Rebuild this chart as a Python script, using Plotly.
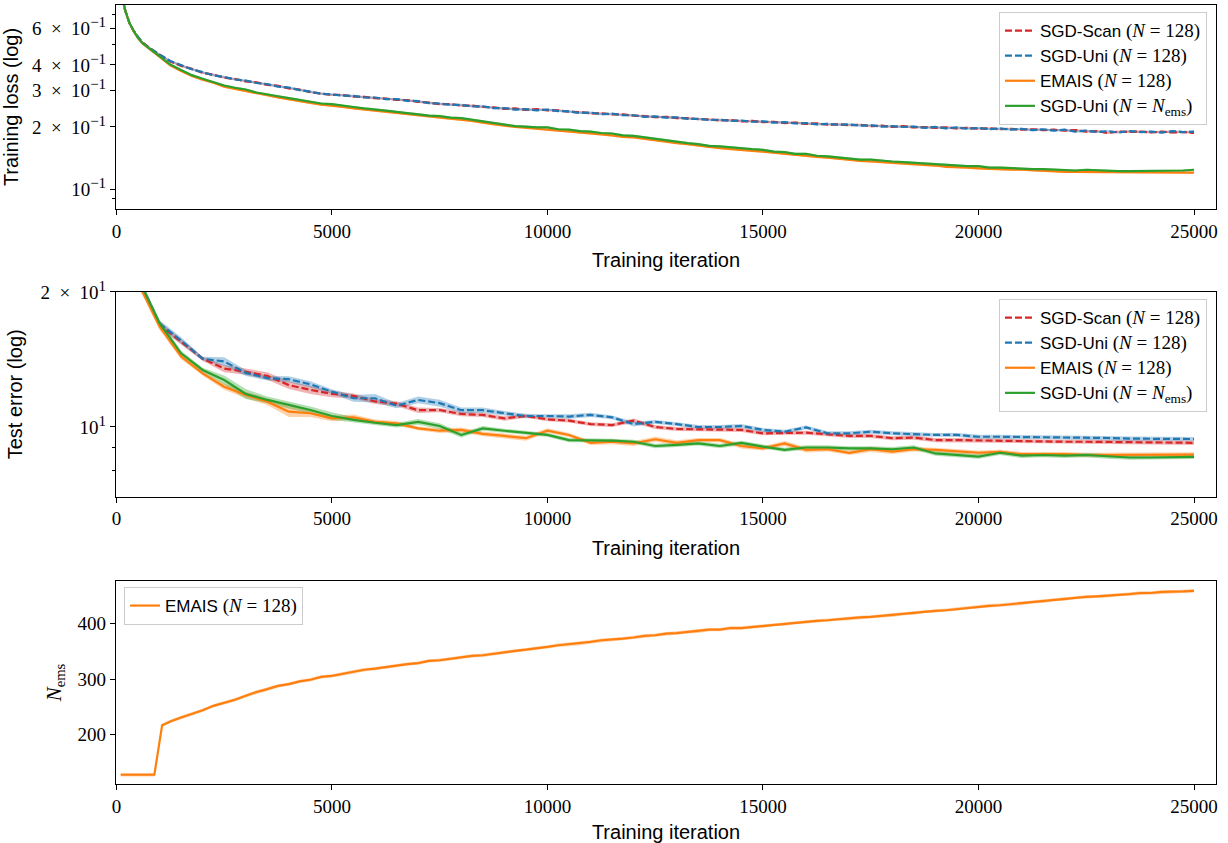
import plotly.graph_objects as go

# ---------------- data ----------------
iters_train = [0, 100, 200, 300, 400, 500, 600, 700, 800, 900] + list(range(1000, 25001, 250))

loss_scan = [2.30, 0.95, 0.74, 0.64, 0.585, 0.545, 0.516, 0.495, 0.478, 0.463,
             0.450, 0.416, 0.396, 0.383, 0.366, 0.359, 0.347, 0.342, 0.333, 0.329,
             0.320, 0.317, 0.308, 0.304, 0.295, 0.291, 0.286, 0.286, 0.281, 0.280,
             0.276, 0.275, 0.271, 0.270, 0.265, 0.263, 0.258, 0.258, 0.254, 0.254,
             0.250, 0.249, 0.245, 0.246, 0.242, 0.244, 0.241, 0.241, 0.237, 0.236,
             0.233, 0.233, 0.230, 0.230, 0.227, 0.226, 0.223, 0.224, 0.221, 0.221,
             0.218, 0.218, 0.215, 0.216, 0.213, 0.214, 0.211, 0.212, 0.209, 0.210,
             0.207, 0.208, 0.205, 0.206, 0.204, 0.205, 0.202, 0.203, 0.200, 0.202,
             0.199, 0.200, 0.198, 0.199, 0.197, 0.198, 0.196, 0.197, 0.195, 0.196,
             0.194, 0.195, 0.193, 0.194, 0.192, 0.193, 0.190, 0.191, 0.187, 0.190,
             0.189, 0.190, 0.188, 0.190, 0.188, 0.189, 0.187]

loss_uni = [2.30, 0.95, 0.74, 0.64, 0.585, 0.545, 0.515, 0.494, 0.477, 0.462,
            0.449, 0.418, 0.398, 0.381, 0.369, 0.356, 0.350, 0.340, 0.336, 0.327,
            0.323, 0.314, 0.311, 0.302, 0.297, 0.290, 0.288, 0.284, 0.283, 0.278,
            0.278, 0.273, 0.273, 0.268, 0.267, 0.261, 0.260, 0.256, 0.256, 0.252,
            0.252, 0.247, 0.247, 0.243, 0.244, 0.241, 0.243, 0.239, 0.238, 0.234,
            0.235, 0.231, 0.232, 0.228, 0.228, 0.224, 0.225, 0.222, 0.223, 0.219,
            0.219, 0.216, 0.217, 0.214, 0.215, 0.212, 0.213, 0.210, 0.211, 0.208,
            0.209, 0.206, 0.207, 0.205, 0.206, 0.203, 0.204, 0.201, 0.202, 0.200,
            0.201, 0.198, 0.200, 0.197, 0.199, 0.196, 0.198, 0.195, 0.197, 0.194,
            0.196, 0.193, 0.195, 0.192, 0.194, 0.190, 0.192, 0.189, 0.191, 0.188,
            0.191, 0.189, 0.190, 0.188, 0.191, 0.189, 0.190]

loss_emais = [2.30, 0.95, 0.74, 0.64, 0.583, 0.540, 0.510, 0.489, 0.472, 0.455,
              0.438, 0.398, 0.374, 0.354, 0.339, 0.328, 0.314, 0.307, 0.299, 0.291,
              0.285, 0.278, 0.272, 0.266, 0.262, 0.257, 0.254, 0.250, 0.246, 0.243,
              0.240, 0.236, 0.234, 0.230, 0.228, 0.224, 0.222, 0.219, 0.217, 0.214,
              0.210, 0.206, 0.203, 0.200, 0.198, 0.196, 0.195, 0.192, 0.190, 0.188,
              0.186, 0.184, 0.182, 0.179, 0.178, 0.175, 0.173, 0.170, 0.167, 0.165,
              0.162, 0.160, 0.158, 0.156, 0.155, 0.153, 0.152, 0.150, 0.148, 0.146,
              0.145, 0.143, 0.142, 0.140, 0.139, 0.137, 0.136, 0.135, 0.134, 0.133,
              0.132, 0.131, 0.130, 0.128, 0.128, 0.127, 0.126, 0.125, 0.125, 0.124,
              0.124, 0.123, 0.122, 0.122, 0.121, 0.121, 0.121, 0.121, 0.120, 0.120,
              0.120, 0.120, 0.120, 0.120, 0.120, 0.120, 0.120]

loss_uni_ems = [2.30, 0.95, 0.74, 0.64, 0.585, 0.542, 0.512, 0.491, 0.475, 0.458,
                0.441, 0.402, 0.378, 0.357, 0.343, 0.331, 0.318, 0.310, 0.304, 0.294,
                0.289, 0.282, 0.276, 0.270, 0.266, 0.260, 0.258, 0.253, 0.250, 0.246,
                0.244, 0.240, 0.237, 0.233, 0.231, 0.227, 0.226, 0.222, 0.221, 0.217,
                0.214, 0.209, 0.206, 0.202, 0.201, 0.199, 0.199, 0.195, 0.194, 0.191,
                0.190, 0.187, 0.186, 0.182, 0.181, 0.178, 0.176, 0.172, 0.170, 0.167,
                0.165, 0.162, 0.161, 0.159, 0.158, 0.156, 0.155, 0.152, 0.151, 0.148,
                0.148, 0.145, 0.144, 0.142, 0.141, 0.139, 0.139, 0.137, 0.136, 0.135,
                0.134, 0.133, 0.132, 0.130, 0.130, 0.129, 0.129, 0.127, 0.127, 0.126,
                0.126, 0.125, 0.125, 0.124, 0.124, 0.123, 0.124, 0.123, 0.123, 0.122,
                0.122, 0.122, 0.123, 0.122, 0.123, 0.123, 0.124]

train_band = 0.012  # relative half-width of the shaded spread

iters_test = list(range(0, 25001, 500))

err_scan = [90, 21.5, 16.9, 15.5, 14.2, 13.5, 13.28, 13.0, 12.4, 12.1,
            11.85, 11.73, 11.4, 11.27, 10.9, 10.91, 10.69, 10.64, 10.45, 10.58,
            10.4, 10.33, 10.15, 10.1, 10.33, 10.0, 9.9, 9.88, 9.85, 9.85,
            9.68, 9.71, 9.71, 9.63, 9.55, 9.55, 9.44, 9.47, 9.35, 9.35,
            9.33, 9.3, 9.3, 9.28, 9.27, 9.27, 9.25, 9.25, 9.24, 9.23, 9.22]
err_uni = [90, 21.5, 17.0, 15.6, 14.2, 14.0, 13.2, 12.85, 12.78, 12.45,
           11.99, 11.59, 11.59, 11.16, 11.49, 11.3, 10.9, 10.9, 10.73, 10.58,
           10.58, 10.55, 10.64, 10.51, 10.15, 10.27, 10.15, 10.0, 10.0, 10.05,
           9.85, 9.76, 9.98, 9.68, 9.68, 9.76, 9.68, 9.63, 9.6, 9.6,
           9.51, 9.51, 9.5, 9.5, 9.48, 9.45, 9.45, 9.42, 9.42, 9.42, 9.40]
err_emais = [90, 21.0, 16.75, 14.36, 13.17, 12.3, 11.79, 11.39, 10.82, 10.73,
             10.45, 10.51, 10.27, 10.19, 9.93, 9.81, 9.85, 9.65, 9.55, 9.44,
             9.81, 9.6, 9.22, 9.27, 9.19, 9.39, 9.22, 9.35, 9.35, 9.07,
             8.96, 9.19, 8.89, 8.92, 8.76, 8.92, 8.81, 8.92, 8.89, 8.81,
             8.76, 8.8, 8.7, 8.7, 8.7, 8.66, 8.66, 8.66, 8.66, 8.67, 8.68]
err_uni_ems = [90, 21.5, 17.04, 14.6, 13.4, 12.73, 11.85, 11.49, 11.2, 10.91,
               10.58, 10.37, 10.22, 10.1, 10.27, 10.05, 9.6, 9.93, 9.81, 9.71,
               9.6, 9.35, 9.35, 9.32, 9.27, 9.07, 9.12, 9.19, 9.07, 9.22,
               9.04, 8.89, 9.0, 9.0, 8.96, 8.96, 8.92, 9.0, 8.73, 8.66,
               8.59, 8.76, 8.63, 8.66, 8.63, 8.66, 8.6, 8.55, 8.55, 8.58, 8.58]

std_scan = [0, 0.4, 0.3, 0.2, 0.15, 0.25, 0.2, 0.25, 0.25, 0.25,
            0.2, 0.15, 0.15, 0.15, 0.15, 0.12, 0.12, 0.12, 0.12, 0.1,
            0.1, 0.1, 0.1, 0.1, 0.12, 0.1, 0.1, 0.1, 0.1, 0.1,
            0.1, 0.1, 0.1, 0.1, 0.1, 0.1, 0.1, 0.1, 0.1, 0.1,
            0.1, 0.1, 0.1, 0.1, 0.1, 0.1, 0.1, 0.1, 0.1, 0.1, 0.1]
std_uni = [0, 0.4, 0.3, 0.25, 0.15, 0.3, 0.2, 0.15, 0.2, 0.2,
           0.15, 0.2, 0.25, 0.15, 0.2, 0.2, 0.15, 0.15, 0.12, 0.12,
           0.1, 0.12, 0.12, 0.1, 0.12, 0.1, 0.1, 0.1, 0.1, 0.1,
           0.1, 0.1, 0.1, 0.1, 0.1, 0.1, 0.1, 0.1, 0.1, 0.1,
           0.1, 0.1, 0.1, 0.1, 0.1, 0.1, 0.1, 0.1, 0.1, 0.1, 0.1]
std_emais = [0, 0.4, 0.3, 0.2, 0.15, 0.2, 0.2, 0.2, 0.3, 0.2,
             0.15, 0.15, 0.12, 0.12, 0.1, 0.12, 0.12, 0.12, 0.12, 0.12,
             0.12, 0.1, 0.1, 0.12, 0.12, 0.12, 0.12, 0.1, 0.1, 0.12,
             0.1, 0.12, 0.12, 0.1, 0.1, 0.12, 0.1, 0.1, 0.1, 0.1,
             0.1, 0.1, 0.1, 0.1, 0.1, 0.1, 0.1, 0.1, 0.1, 0.1, 0.1]
std_uni_ems = [0, 0.4, 0.3, 0.2, 0.15, 0.3, 0.3, 0.2, 0.2, 0.2,
               0.2, 0.15, 0.12, 0.12, 0.15, 0.15, 0.12, 0.12, 0.1, 0.1,
               0.1, 0.1, 0.1, 0.1, 0.1, 0.1, 0.1, 0.1, 0.1, 0.1,
               0.1, 0.1, 0.1, 0.1, 0.1, 0.1, 0.1, 0.1, 0.1, 0.1,
               0.1, 0.1, 0.1, 0.1, 0.1, 0.1, 0.1, 0.1, 0.1, 0.1, 0.1]

iters_nems = [100, 880, 1060] + list(range(1250, 25001, 250))
nems = [128, 128, 217,
        224, 231, 237, 244, 252, 257, 263, 270, 277, 282,
        288, 291, 296, 299, 304, 306, 310, 313, 317, 319,
        322, 324, 327, 329, 333, 334, 337, 339, 342, 343,
        346, 348, 351, 353, 355, 358, 361, 363, 364, 367,
        370, 371, 373, 375, 378, 379, 382, 383, 385, 386,
        389, 389, 392, 392, 394, 395, 398, 399, 402, 403,
        405, 406, 408, 409, 411, 412, 414, 415, 418, 419,
        422, 423, 424, 426, 429, 430, 432, 433, 435, 436,
        439, 440, 443, 444, 447, 448, 449, 450, 452, 453,
        455, 455, 457, 457, 458, 459]
nems_band = 3.0

for arr in (loss_scan, loss_uni, loss_emais, loss_uni_ems):
    assert len(arr) == len(iters_train), len(arr)
for arr in (err_scan, err_uni, err_emais, err_uni_ems, std_scan, std_uni, std_emais, std_uni_ems):
    assert len(arr) == len(iters_test), len(arr)
assert len(nems) == len(iters_nems), (len(nems), len(iters_nems))

# ---------------- styling ----------------
RED, BLUE, ORANGE, GREEN = "#d62728", "#1f77b4", "#ff7f0e", "#2ca02c"
FILL = {RED: "rgba(214,39,40,0.35)", BLUE: "rgba(31,119,180,0.35)",
        ORANGE: "rgba(255,127,14,0.35)", GREEN: "rgba(44,160,44,0.35)"}
SERIF = "Liberation Serif"
SANS = "Liberation Sans"


def math(s):
    return '<span style="font-family:%s;font-size:19px">%s</span>' % (SERIF, s)


LBL_SCAN = "SGD-Scan " + math("(<i>N</i> = 128)")
LBL_UNI = "SGD-Uni " + math("(<i>N</i> = 128)")
LBL_EMAIS = "EMAIS " + math("(<i>N</i> = 128)")
LBL_UNI_EMS = "SGD-Uni " + math("(<i>N</i> = <i>N</i><sub>ems</sub>)")

fig = go.Figure()


def add_band(x, lo, hi, color, xa, ya):
    fig.add_trace(go.Scatter(x=list(x) + list(x)[::-1], y=list(hi) + list(lo)[::-1],
                             fill="toself", fillcolor=FILL[color], line=dict(width=0),
                             mode="lines", hoverinfo="skip", showlegend=False,
                             xaxis=xa, yaxis=ya))


def add_line(x, y, color, dash, name, xa, ya, legend):
    fig.add_trace(go.Scatter(x=x, y=y, mode="lines", name=name,
                             line=dict(color=color, width=2.2, dash=dash),
                             xaxis=xa, yaxis=ya, legend=legend, showlegend=True))


DASH = "7px,3px"
series_train = [(loss_scan, RED, DASH, LBL_SCAN), (loss_uni, BLUE, DASH, LBL_UNI),
                (loss_emais, ORANGE, "solid", LBL_EMAIS), (loss_uni_ems, GREEN, "solid", LBL_UNI_EMS)]
for vals, c, d, n in series_train:
    add_band(iters_train, [v * (1 - train_band) for v in vals],
             [v * (1 + train_band) for v in vals], c, "x", "y")
for vals, c, d, n in series_train:
    add_line(iters_train, vals, c, d, n, "x", "y", "legend")

series_test = [(err_scan, std_scan, RED, DASH, LBL_SCAN), (err_uni, std_uni, BLUE, DASH, LBL_UNI),
               (err_emais, std_emais, ORANGE, "solid", LBL_EMAIS),
               (err_uni_ems, std_uni_ems, GREEN, "solid", LBL_UNI_EMS)]
for vals, sd, c, d, n in series_test:
    add_band(iters_test, [v - s for v, s in zip(vals, sd)],
             [v + s for v, s in zip(vals, sd)], c, "x2", "y2")
for vals, sd, c, d, n in series_test:
    add_line(iters_test, vals, c, d, n, "x2", "y2", "legend2")

add_band(iters_nems, [v - nems_band for v in nems], [v + nems_band for v in nems], ORANGE, "x3", "y3")
add_line(iters_nems, nems, ORANGE, "solid", LBL_EMAIS, "x3", "y3", "legend3")

# ---------------- axes ----------------
tickfont = dict(family=SERIF, size=19, color="black")
titlefont = dict(family=SANS, size=20, color="black")
SP = "\u2002"  # wide space around the multiplication sign


def sci(m, e):
    exp = '<sup><span style="font-size:15px">%s</span></sup>' % e
    if m is None:
        return "10" + exp
    return "%s%s×%s10%s" % (m, SP, SP, exp)


common = dict(ticks="outside", ticklen=5, tickwidth=1, tickcolor="black",
              showline=True, linecolor="black", linewidth=1.2, mirror=True,
              showgrid=False, zeroline=False, tickfont=tickfont, automargin=False)


def xaxis(anchor):
    return dict(domain=[0, 1], anchor=anchor, range=[-10, 25510],
                tickvals=[0, 5000, 10000, 15000, 20000, 25000], tickformat="d",
                title=dict(text="Training iteration", font=titlefont, standoff=12),
                **common)


H = 843 - 5 - 59
fig.update_layout(
    width=1228, height=843,
    margin=dict(l=116, r=12, t=5, b=59, autoexpand=False),
    paper_bgcolor="white", plot_bgcolor="white",
    xaxis=xaxis("y"),
    xaxis2=xaxis("y2"),
    xaxis3=xaxis("y3"),
    yaxis=dict(domain=[(784 - 209) / H, 1], anchor="x", type="log",
               range=[-1.097, -0.107],
               tickmode="array", tickvals=[0.1, 0.2, 0.3, 0.4, 0.6],
               ticktext=[sci(None, "−1"), sci(2, "−1"), sci(3, "−1"), sci(4, "−1"), sci(6, "−1")],
               minor=dict(tickmode="array", tickvals=[0.09, 0.5, 0.7], ticks="outside",
                          ticklen=3, tickcolor="black", showgrid=False),
               title=dict(text="Training loss (log)", font=titlefont, standoff=12),
               **common),
    yaxis2=dict(domain=[(784 - 496.5) / H, (784 - 292) / H], anchor="x2", type="log",
                range=[0.845, 1.301],
                tickmode="array", tickvals=[10, 20],
                ticktext=[sci(None, "1"), sci(2, "1")],
                minor=dict(tickmode="array", tickvals=[8, 9], ticks="outside",
                           ticklen=3, tickcolor="black", showgrid=False),
                title=dict(text="Test error (log)", font=titlefont, standoff=12),
                **common),
    yaxis3=dict(domain=[0, (784 - 581) / H], anchor="x3",
                range=[111.4, 476.6], tickvals=[200, 300, 400],
                title=dict(text="<i>N</i><sub>ems</sub>", font=dict(family=SERIF, size=21, color="black"),
                           standoff=10),
                **common),
)

legend_style = dict(bgcolor="rgba(255,255,255,0.8)", bordercolor="#cccccc", borderwidth=1,
                    font=dict(family=SANS, size=17, color="black"),
                    xanchor="right", yanchor="top")
fig.update_layout(
    legend=dict(x=0.9918, y=(784 - 12) / H, **legend_style),
    legend2=dict(x=0.9918, y=(784 - 299) / H, **legend_style),
    legend3=dict(bgcolor="rgba(255,255,255,0.8)", bordercolor="#cccccc", borderwidth=1,
                 font=dict(family=SANS, size=17, color="black"),
                 x=0.0073, y=(784 - 587) / H, xanchor="left", yanchor="top"),
)

fig.write_html("out.html")
